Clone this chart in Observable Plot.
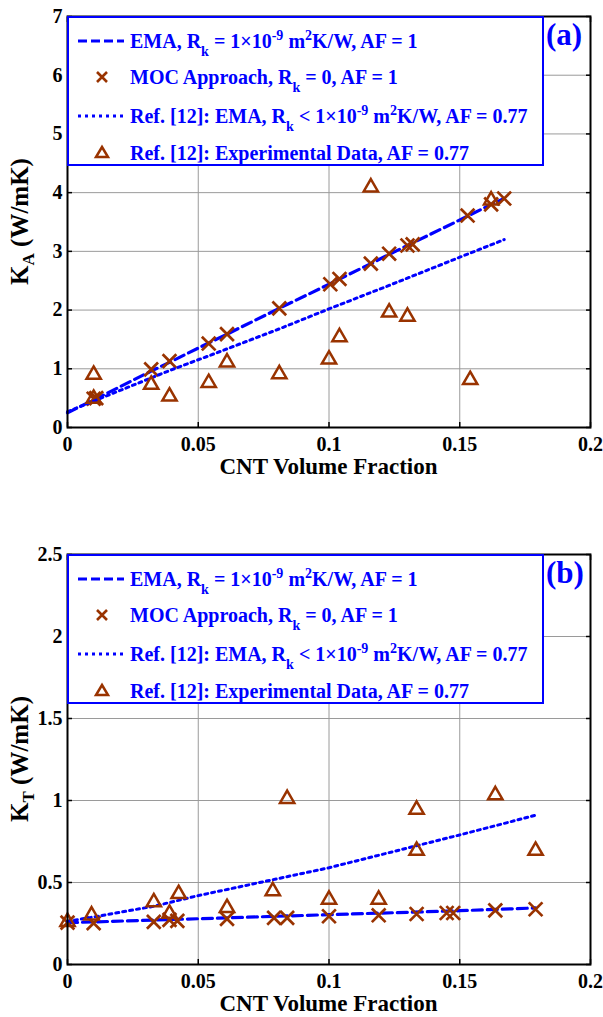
<!DOCTYPE html>
<html>
<head>
<meta charset="utf-8">
<script src="https://cdn.jsdelivr.net/npm/d3@7"></script>
<script src="https://cdn.jsdelivr.net/npm/@observablehq/plot@0.6"></script>
<style>
  body { margin: 0; background: #fff; font-family: "Liberation Serif", "Times New Roman", serif; font-weight: bold; }
  .panel { position: relative; width: 603px; }
  .panel svg { display: block; }
  .legend { position: absolute; box-sizing: border-box; border: 2px solid #0000ff; background: #fff; color: #0000ff; font-size: 20px; }
  .row { position: absolute; left: 0; height: 30px; margin-top: -15px; white-space: nowrap; }
  .row svg { position: absolute; left: 8px; top: 0; }
  .row span { position: absolute; left: 61px; top: 0; line-height: 30px; }
  .row sub { font-size: 0.7em; vertical-align: -0.6em; line-height: 0; }
  .row sup { font-size: 0.7em; vertical-align: 0.6em; line-height: 0; }
  .tag { position: absolute; color: #0000ff; font-size: 31px; line-height: 1; }
</style>
</head>
<body>
<div id="pa" class="panel"></div>
<div id="pb" class="panel"></div>
<script>
const BLUE = "#0000ff";
const BROWN = "#993300";
const xTicks = [0, 0.05, 0.1, 0.15, 0.2];

// ---- Panel (a): axial conductivity K_A ----
const yTicksA = [0, 1, 2, 3, 4, 5, 6, 7];
const vfA_ema = [0, 0.01, 0.032, 0.039, 0.054, 0.061, 0.081, 0.1005, 0.104, 0.116, 0.123, 0.130, 0.153, 0.162, 0.167];
const kA_ema  = [0.25, 0.47, 0.96, 1.11, 1.44, 1.59, 2.03, 2.45, 2.53, 2.79, 2.95, 3.10, 3.60, 3.80, 3.90];
const vfA_moc = [0.01, 0.011, 0.032, 0.039, 0.054, 0.061, 0.081, 0.1005, 0.104, 0.116, 0.123, 0.130, 0.132, 0.153, 0.162, 0.167];
const kA_moc  = [0.49, 0.50, 0.99, 1.13, 1.43, 1.59, 2.03, 2.44, 2.53, 2.79, 2.96, 3.10, 3.12, 3.61, 3.80, 3.90];
const vfA_ref = [0, 0.01, 0.039, 0.054, 0.081, 0.1, 0.123, 0.15, 0.167];
const kA_ref  = [0.27, 0.45, 0.97, 1.22, 1.68, 2.02, 2.42, 2.90, 3.20];
const vfA_exp = [0.01, 0.01, 0.032, 0.039, 0.054, 0.061, 0.081, 0.100, 0.104, 0.116, 0.123, 0.130, 0.154, 0.162];
const kA_exp  = [0.90, 0.49, 0.73, 0.53, 0.76, 1.11, 0.91, 1.16, 1.54, 4.09, 1.96, 1.89, 0.81, 3.87];

// ---- Panel (b): transverse conductivity K_T ----
const yTicksB = [0, 0.5, 1, 1.5, 2, 2.5];
const vfB_ema = [0, 0.05, 0.1, 0.15, 0.179];
const kB_ema  = [0.255, 0.279, 0.304, 0.328, 0.345];
const vfB_moc = [0, 0.01, 0.033, 0.039, 0.042, 0.061, 0.079, 0.084, 0.100, 0.119, 0.1335, 0.145, 0.1475, 0.1636, 0.179];
const kB_moc  = [0.255, 0.252, 0.26, 0.272, 0.266, 0.278, 0.284, 0.284, 0.294, 0.30, 0.308, 0.314, 0.314, 0.33, 0.337];
const vfB_ref = [0, 0.01, 0.033, 0.05, 0.075, 0.1, 0.125, 0.15, 0.179];
const kB_ref  = [0.263, 0.29, 0.355, 0.42, 0.505, 0.59, 0.69, 0.79, 0.91];
const vfB_exp = [0, 0.0092, 0.033, 0.039, 0.0425, 0.061, 0.0785, 0.084, 0.100, 0.119, 0.1335, 0.1335, 0.1636, 0.179];
const kB_exp  = [0.26, 0.30, 0.38, 0.31, 0.43, 0.345, 0.448, 1.01, 0.396, 0.396, 0.945, 0.694, 1.033, 0.694];

const pts = (xs, ys) => xs.map((x, i) => ({x, y: ys[i]}));

const legendRows = [
  {kind: "dash",  html: "EMA, R<sub>k</sub> = 1×10<sup>-9</sup> m<sup>2</sup>K/W, AF = 1"},
  {kind: "cross", html: "MOC Approach, R<sub>k</sub> = 0, AF = 1"},
  {kind: "dot",   html: "Ref. [12]: EMA, R<sub>k</sub> &lt; 1×10<sup>-9</sup> m<sup>2</sup>K/W, AF = 0.77"},
  {kind: "tri",   html: "Ref. [12]: Experimental Data, AF = 0.77"}
];

function swatch(kind) {
  if (kind === "dash") return `<svg width="50" height="30"><line x1="1" x2="47" y1="15" y2="15" stroke="${BLUE}" stroke-width="3" stroke-dasharray="9,4"/></svg>`;
  if (kind === "dot") return `<svg width="50" height="30"><line x1="1" x2="47" y1="15" y2="15" stroke="${BLUE}" stroke-width="3" stroke-dasharray="3,4"/></svg>`;
  if (kind === "cross") return `<svg width="50" height="30"><path d="M20,10L30,20M30,10L20,20" stroke="${BROWN}" stroke-width="2.6"/></svg>`;
  return `<svg width="50" height="30"><path d="M25,9L31,19H19Z" fill="none" stroke="${BROWN}" stroke-width="2.5"/></svg>`;
}

function drawPanel({host, height, marginTop, marginBottom, yDomain, yTicks, ema, moc, ref, exp, ySub, tag}) {
  const marginLeft = 67, marginRight = 13;
  const fig = Plot.plot({
    width: 603, height, marginLeft, marginRight, marginTop, marginBottom,
    style: {fontFamily: '"Liberation Serif", "Times New Roman", serif', fontWeight: "bold", fontSize: "20px", color: "#000", background: "#fff", overflow: "visible"},
    x: {domain: [0, 0.2]},
    y: {domain: yDomain},
    marks: [
      Plot.gridX(xTicks, {stroke: "#9a9a9a", strokeOpacity: 1, strokeWidth: 1}),
      Plot.gridY(yTicks, {stroke: "#9a9a9a", strokeOpacity: 1, strokeWidth: 1}),
      Plot.line(ema, {x: "x", y: "y", stroke: BLUE, strokeWidth: 3.2, strokeDasharray: "10,5"}),
      Plot.dot(moc, {x: "x", y: "y", symbol: "times", r: 6.3, stroke: BROWN, strokeWidth: 2.7}),
      Plot.line(ref, {x: "x", y: "y", stroke: BLUE, strokeWidth: 3, strokeDasharray: "3,4"}),
      Plot.dot(exp, {x: "x", y: "y", symbol: "triangle", r: 5.3, stroke: BROWN, strokeWidth: 2.5, fill: "none"}),
      Plot.frame({stroke: "#000", strokeWidth: 2}),
      Plot.axisX(xTicks, {anchor: "bottom", tickSize: 0, tickPadding: 9, tickFormat: String, label: null}),
      Plot.axisY(yTicks, {anchor: "left", tickSize: 0, tickPadding: 5, tickFormat: String, label: null}),
      Plot.axisX(xTicks, {anchor: "bottom", tickSize: -5, tickFormat: () => "", label: null, strokeWidth: 1.5}),
      Plot.axisX(xTicks, {anchor: "top", tickSize: -5, tickFormat: () => "", label: null, strokeWidth: 1.5}),
      Plot.axisY(yTicks, {anchor: "left", tickSize: -5, tickFormat: () => "", label: null, strokeWidth: 1.5}),
      Plot.axisY(yTicks, {anchor: "right", tickSize: -5, tickFormat: () => "", label: null, strokeWidth: 1.5})
    ]
  });

  const svg = d3.select(fig);
  const plotBottom = height - marginBottom;
  // x-axis title
  svg.append("text")
    .attr("x", (marginLeft + 603 - marginRight) / 2)
    .attr("y", plotBottom + 47)
    .attr("text-anchor", "middle")
    .attr("font-size", 23)
    .text("CNT Volume Fraction");
  // y-axis title with subscript
  const yt = svg.append("text")
    .attr("transform", `translate(28,${(marginTop + plotBottom) / 2}) rotate(-90)`)
    .attr("text-anchor", "middle")
    .attr("font-size", 25);
  yt.append("tspan").text("K");
  yt.append("tspan").attr("font-size", 17).attr("dy", 6).text(ySub);
  yt.append("tspan").attr("dy", -6).text(" (W/mK)");

  const el = document.getElementById(host);
  el.style.height = height + "px";
  el.appendChild(fig);

  // legend box
  const lg = document.createElement("div");
  lg.className = "legend";
  Object.assign(lg.style, {left: marginLeft + "px", top: marginTop + "px", width: "477px", height: "150px"});
  const centers = [23, 59, 98, 135];
  legendRows.forEach((r, i) => {
    const row = document.createElement("div");
    row.className = "row";
    row.style.top = centers[i] + "px";
    row.innerHTML = swatch(r.kind) + `<span>${r.html}</span>`;
    lg.appendChild(row);
  });
  el.appendChild(lg);

  // panel tag
  const t = document.createElement("div");
  t.className = "tag";
  t.textContent = tag;
  Object.assign(t.style, {left: "546px", top: (marginTop + 3) + "px"});
  el.appendChild(t);
}

drawPanel({
  host: "pa", height: 490, marginTop: 16, marginBottom: 63,
  yDomain: [0, 7], yTicks: yTicksA,
  ema: pts(vfA_ema, kA_ema), moc: pts(vfA_moc, kA_moc),
  ref: pts(vfA_ref, kA_ref), exp: pts(vfA_exp, kA_exp),
  ySub: "A", tag: "(a)"
});
drawPanel({
  host: "pb", height: 527, marginTop: 64, marginBottom: 53,
  yDomain: [0, 2.5], yTicks: yTicksB,
  ema: pts(vfB_ema, kB_ema), moc: pts(vfB_moc, kB_moc),
  ref: pts(vfB_ref, kB_ref), exp: pts(vfB_exp, kB_exp),
  ySub: "T", tag: "(b)"
});
</script>
</body>
</html>
